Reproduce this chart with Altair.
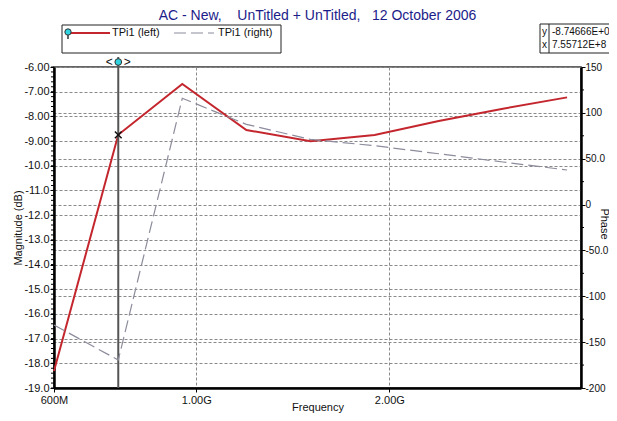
import altair as alt
import pandas as pd

# ---------------- data ----------------
freq_hz = [6.0e8, 7.557e8, 9.51e8, 1.197e9, 1.507e9, 1.897e9, 2.388e9, 3.007e9, 3.786e9]
magnitude_db = [-18.31, -8.747, -6.69, -8.55, -9.01, -8.75, -8.19, -7.69, -7.23]
phase_deg = [-131.3, -169.5, 115.9, 87.5, 71.0, 64.2, 55.4, 46.4, 37.7]

cursor_freq = [7.55712e8]
cursor_mag = [-8.74666]
cursor_text_y = "-8.74666E+0"
cursor_text_x = "7.55712E+8"

x_tick_values = [6.0e8, 1.0e9, 2.0e9]
x_tick_labels = ["600M", "1.00G", "2.00G"]
mag_tick_values = [-19, -18, -17, -16, -15, -14, -13, -12, -11, -10, -9, -8, -7, -6]
mag_tick_labels = ["-19.0", "-18.0", "-17.0", "-16.0", "-15.0", "-14.0", "-13.0",
                   "-12.0", "-11.0", "-10.0", "-9.00", "-8.00", "-7.00", "-6.00"]
phase_tick_values = [-200, -150, -100, -50, 0, 50, 100, 150]
phase_tick_labels = ["-200", "-150", "-100", "-50.0", "0", "50.0", "100", "150"]
mag_minor_ticks = [round(-19 + 0.2 * i, 2) for i in range(66)]
phase_minor_ticks = [-175, -125, -75, -25, 25, 75, 125]

NB = "\u00a0"
title_text = f"AC - New,{NB*4}UnTitled + UnTitled,{NB*3}12 October 2006"
legend_left = "TPi1 (left)"
legend_right = "TPi1 (right)"

# ---------------- layout / style ----------------
W, H = 527, 321
FONT = "Liberation Sans"
RED = "#c4262e"
GRAY = "#8c8c9c"
CYAN = "#2fd3e0"


def label_expr(values, labels):
    expr = "''"
    for v, l in reversed(list(zip(values, labels))):
        expr = f"datum.value == {float(v)!r} ? '{l}' : ({expr})"
    return expr


df = pd.DataFrame({"freq": freq_hz, "mag": magnitude_db, "phase": phase_deg})
cur = pd.DataFrame({"freq": cursor_freq, "mag": cursor_mag})
one = pd.DataFrame({"a": [0]})

xs = alt.Scale(type="log", domain=[6.0e8, 3.98e9], nice=False)
ls = alt.Scale(domain=[-19, -6], nice=False, zero=False)
rs = alt.Scale(domain=[-200, 150], nice=False, zero=False)

x_axis = alt.Axis(values=x_tick_values, labelExpr=label_expr(x_tick_values, x_tick_labels),
                  title="Frequency", grid=True, tickSize=4, labelPadding=2,
                  domainWidth=2.5, titleY=19, titleBaseline="middle", labelFlush=False)
left_axis = alt.Axis(values=mag_tick_values, labelExpr=label_expr(mag_tick_values, mag_tick_labels),
                     title="Magnitude (dB)", grid=True, tickSize=4, labelPadding=1,
                     domainWidth=2.5, orient="left", titleX=-36, titleY=H / 2,
                     titleBaseline="middle", titleAngle=-90)
right_axis = alt.Axis(values=phase_tick_values, labelExpr=label_expr(phase_tick_values, phase_tick_labels),
                      title="Phase", grid=True, tickSize=4, labelPadding=0, labelFontSize=10,
                      domainWidth=2.5, orient="right", titleX=22, titleY=H / 2 - 4,
                      titleBaseline="middle", titleAngle=90)

X = alt.X("freq:Q", scale=xs, axis=x_axis)

# ---------------- left (magnitude) group ----------------
red_line = alt.Chart(df).mark_line(color=RED, strokeWidth=2).encode(
    x=X, y=alt.Y("mag:Q", scale=ls, axis=left_axis),
)
left_minor = alt.Chart(pd.DataFrame({"mag": mag_minor_ticks})).mark_rule(
    color="#000", strokeWidth=1).encode(
    x=alt.value(-3), x2=alt.value(0),
    y=alt.Y("mag:Q", scale=ls, axis=left_axis),
)
cursor_line = alt.Chart(cur).mark_rule(color="#555", strokeWidth=2).encode(
    x=X, y=alt.value(-10), y2=alt.value(H),
)
cursor_x = alt.Chart(cur).mark_point(
    shape="M-1,-1L1,1M-1,1L1,-1", filled=False, color="#111", strokeWidth=1.5, size=45, opacity=1
).encode(x=X, y=alt.Y("mag:Q", scale=ls, axis=left_axis))
cursor_top = alt.Chart(cur).mark_point(
    shape="circle", filled=True, fill=CYAN, stroke="#333", strokeWidth=1, size=45, opacity=1
).encode(x=X, y=alt.value(-5))
cursor_lt = alt.Chart(cur).mark_text(text="<", font=FONT, fontSize=12, dx=-9, color="#111").encode(
    x=X, y=alt.value(-5))
cursor_gt = alt.Chart(cur).mark_text(text=">", font=FONT, fontSize=12, dx=9, color="#111").encode(
    x=X, y=alt.value(-5))

left_group = alt.layer(red_line, left_minor, cursor_line, cursor_x, cursor_top, cursor_lt, cursor_gt)

# ---------------- right (phase) group ----------------
gray_line = alt.Chart(df).mark_line(color=GRAY, strokeWidth=1.2, strokeDash=[12, 5]).encode(
    x=X, y=alt.Y("phase:Q", scale=rs, axis=right_axis),
)
right_minor = alt.Chart(pd.DataFrame({"phase": phase_minor_ticks})).mark_rule(
    color="#000", strokeWidth=1).encode(
    x=alt.value(W), x2=alt.value(W + 3),
    y=alt.Y("phase:Q", scale=rs, axis=right_axis),
)
right_group = alt.layer(gray_line, right_minor)

# ---------------- decorations: title, legend box, readout ----------------
ox, oy = 54, 67  # plot origin in page pixels
title = alt.Chart(one).mark_text(text=title_text, font=FONT, fontSize=14, color="#1c1c8a",
                                 baseline="middle").encode(
    x=alt.value(W / 2), y=alt.value(16 - oy))

leg_box = alt.Chart(one).mark_rect(fill="white", stroke="#222", strokeWidth=1).encode(
    x=alt.value(62 - ox), x2=alt.value(281 - ox), y=alt.value(25 - oy), y2=alt.value(53 - oy))
leg_red = alt.Chart(one).mark_rule(color=RED, strokeWidth=2).encode(
    x=alt.value(69 - ox), x2=alt.value(110 - ox), y=alt.value(33 - oy))
leg_stem = alt.Chart(one).mark_rule(color="#333", strokeWidth=1.5).encode(
    x=alt.value(68 - ox), y=alt.value(33 - oy), y2=alt.value(39 - oy))
leg_pin = alt.Chart(one).mark_point(shape="circle", filled=True, fill=CYAN, stroke="#333",
                                    strokeWidth=1, size=40, opacity=1).encode(
    x=alt.value(68 - ox), y=alt.value(32 - oy))
leg_t1 = alt.Chart(one).mark_text(text=legend_left, font=FONT, fontSize=11, align="left",
                                  baseline="middle", color="#111").encode(
    x=alt.value(112 - ox), y=alt.value(33 - oy))
leg_gray = alt.Chart(one).mark_rule(color=GRAY, strokeWidth=1.2, strokeDash=[12, 5]).encode(
    x=alt.value(174 - ox), x2=alt.value(214 - ox), y=alt.value(33 - oy))
leg_t2 = alt.Chart(one).mark_text(text=legend_right, font=FONT, fontSize=11, align="left",
                                  baseline="middle", color="#111").encode(
    x=alt.value(218 - ox), y=alt.value(33 - oy))

ro_box = alt.Chart(one).mark_rect(fill="white", stroke="#222", strokeWidth=1).encode(
    x=alt.value(540 - ox), x2=alt.value(640 - ox), y=alt.value(24 - oy), y2=alt.value(53 - oy))
ro_div = alt.Chart(one).mark_rule(color="#222", strokeWidth=1).encode(
    x=alt.value(549 - ox), y=alt.value(24 - oy), y2=alt.value(53 - oy))
ro_y = alt.Chart(one).mark_text(text="y", font=FONT, fontSize=10, align="left",
                                baseline="middle", color="#111").encode(
    x=alt.value(542 - ox), y=alt.value(32 - oy))
ro_x = alt.Chart(one).mark_text(text="x", font=FONT, fontSize=10, align="left",
                                baseline="middle", color="#111").encode(
    x=alt.value(542 - ox), y=alt.value(45 - oy))
ro_yv = alt.Chart(one).mark_text(text=cursor_text_y, font=FONT, fontSize=10, align="left",
                                 baseline="middle", color="#111").encode(
    x=alt.value(552 - ox), y=alt.value(32 - oy))
ro_xv = alt.Chart(one).mark_text(text=cursor_text_x, font=FONT, fontSize=10, align="left",
                                 baseline="middle", color="#111").encode(
    x=alt.value(552 - ox), y=alt.value(45 - oy))

decor = alt.layer(title, leg_box, leg_red, leg_stem, leg_pin, leg_t1, leg_gray, leg_t2,
                  ro_box, ro_div, ro_y, ro_x, ro_yv, ro_xv)

chart = alt.layer(left_group, right_group, decor).resolve_scale(y="independent").properties(
    width=W, height=H,
    autosize=alt.AutoSizeParams(type="none"),
    padding={"left": ox - 8, "top": oy - 8, "right": 609 - ox - W, "bottom": 413 - oy - H},
    background="white",
).configure_view(stroke="#333", strokeWidth=1.5).configure_axis(
    labelFont=FONT, titleFont=FONT, labelFontSize=11, titleFontSize=11,
    titleFontWeight="normal", labelColor="#111", titleColor="#111",
    domainColor="#000", tickColor="#000", gridColor="#8a8a8a", gridDash=[3, 2], gridWidth=1,
)

chart.save("out.html", embed_options={"renderer": "svg", "actions": False})
